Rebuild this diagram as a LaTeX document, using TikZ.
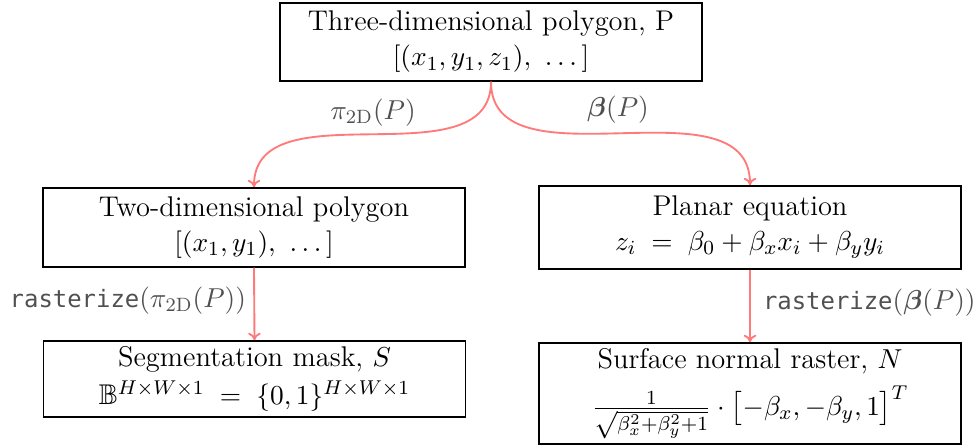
\documentclass[tikz,border=0pt]{standalone}
\usepackage{amsmath,amssymb}
\usepackage{fontspec}
\setmonofont[Scale=0.87]{DejaVu Sans Mono}
\usetikzlibrary{arrows.meta}
\definecolor{arrowred}{RGB}{255,122,122}
\definecolor{labelgray}{RGB}{80,80,80}
\tikzset{
  box/.style={draw=black, line width=0.6pt, rectangle, align=center,
    minimum width=168.8pt, inner sep=2pt, font=\fontsize{11.4}{14}\selectfont},
  conn/.style={draw=arrowred, line width=0.75pt, -{To[length=3pt,width=5pt]}},
  lbl/.style={text=labelgray, font=\fontsize{11}{13}\selectfont, inner sep=1pt},
}
\begin{document}
\begin{tikzpicture}[x=0.4pt,y=-0.4pt]
\useasboundingbox (0,0) rectangle (976,445);
\node[box, minimum height=31.2pt] (top) at (491,42)
  {Three-dimensional polygon, P\\ $[(x_1,y_1,z_1),\ \dots]$};
\node[box, minimum height=31.6pt] (two) at (254,227.5)
  {Two-dimensional polygon\\ $[(x_1,y_1),\ \dots]$};
\node[box, minimum height=33.2pt] (plan) at (750,227.5)
  {Planar equation\\ $z_i \;=\; \beta_0+\beta_x x_i+\beta_y y_i$};
\node[box, minimum height=30.4pt] (seg) at (254.5,379)
  {Segmentation mask, $S$\\[1pt] $\mathbb{B}^{H\times W\times 1} \;=\; \{0,1\}^{H\times W\times 1}$};
\node[box, minimum height=40.4pt] (surf) at (750,393.5)
  {Surface normal raster, $N$\\[4pt] $\frac{1}{\sqrt{\beta_x^2+\beta_y^2+1}}\cdot\bigl[-\beta_x,-\beta_y,1\bigr]^T$};
\draw[conn] (top.south) to[out=-90,in=90] (two.north);
\draw[conn] (top.south) to[out=-90,in=90] (plan.north);
\draw[conn] (two.south) -- (seg.north);
\draw[conn] (plan.south) -- (surf.north);
\node[lbl] (l1) at (373,113) {$\pi_{\mathrm{2D}}(P)$};
\node[lbl] (l2) at (618,110) {$\boldsymbol{\beta}(P)$};
\node[lbl, anchor=east] (l3) at (249,301) {\texttt{rasterize}$(\pi_{\mathrm{2D}}(P))$};
\node[lbl, anchor=west] (l4) at (760,303) {\texttt{rasterize}$(\boldsymbol{\beta}(P))$};
\end{tikzpicture}
\end{document}
